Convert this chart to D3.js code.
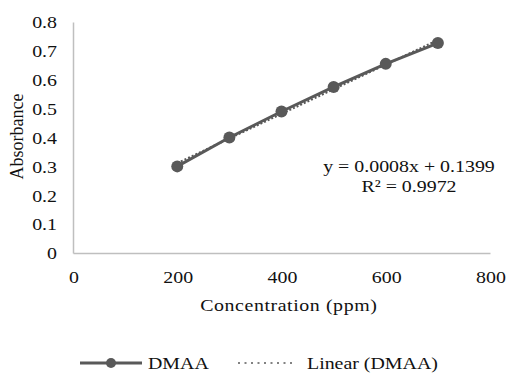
<!DOCTYPE html>
<html>
<head>
<meta charset="utf-8">
<script src="https://cdn.jsdelivr.net/npm/d3@7"></script>
<style>
  body { margin: 0; background: #fff; }
  svg { display: block; }
  text { font-family: "Liberation Serif", "Times New Roman", serif; fill: #111; }
</style>
</head>
<body>
<svg width="508" height="374"></svg>
<script>
// data
const concentration = [200, 300, 400, 500, 600, 700];
const absorbance = [0.30, 0.40, 0.49, 0.575, 0.655, 0.727];
const xTicks = [0, 200, 400, 600, 800];
const yTicks = [0, 0.1, 0.2, 0.3, 0.4, 0.5, 0.6, 0.7, 0.8];
const equation = ["y = 0.0008x + 0.1399", "R² = 0.9972"];
const legendNames = ["DMAA", "Linear (DMAA)"];

const svg = d3.select("svg");
const grey = "#595959";
const axisGrey = "#bfbfbf";
const FS = "17px";
const SX = 1.17; // text in the picture is a little wide

const x = d3.scaleLinear().domain([0, 800]).range([73, 490]);
const y = d3.scaleLinear().domain([0, 0.8]).range([253, 22]);

// put text at (px,py) and stretch it sideways
const place = (sel, px, py) => sel
  .attr("x", 0).attr("y", 0)
  .attr("transform", `translate(${px},${py}) scale(${SX},1)`);

// axes
const yAxis = svg.append("g")
  .attr("transform", `translate(${x(0)},0)`)
  .call(d3.axisLeft(y).tickValues(yTicks).tickSize(0).tickFormat(d3.format("")));
yAxis.selectAll("text")
  .attr("dy", null)
  .style("font-size", FS)
  .attr("text-anchor", "end")
  .each(function() { place(d3.select(this), -16, 5.8); });

const xAxis = svg.append("g")
  .attr("transform", `translate(0,${y(0)})`)
  .call(d3.axisBottom(x).tickValues(xTicks).tickSize(0).tickFormat(d3.format("d")));
xAxis.selectAll("text")
  .attr("dy", null)
  .style("font-size", FS)
  .attr("text-anchor", "middle")
  .each(function() { place(d3.select(this), 0.5, 30); });

svg.selectAll(".domain")
  .attr("stroke", axisGrey)
  .attr("stroke-width", 1.5);
svg.selectAll(".tick line").remove();

// axis titles
place(svg.append("text")
  .attr("text-anchor", "middle")
  .style("font-size", FS)
  .attr("textLength", 151)
  .text("Concentration (ppm)"), 288.5, 310.5);

svg.append("text")
  .attr("text-anchor", "middle")
  .attr("transform", "translate(23,136.5) rotate(-90)")
  .style("font-size", "18px")
  .text("Absorbance");

// linear trendline (least squares over the points)
const mx = d3.mean(concentration);
const my = d3.mean(absorbance);
const slope = d3.sum(concentration, (c, i) => (c - mx) * (absorbance[i] - my)) /
  d3.sum(concentration, (c) => (c - mx) * (c - mx));
const icpt = my - slope * mx;
const trendX = d3.extent(concentration);

const line = d3.line().x((d) => x(d[0])).y((d) => y(d[1]));

svg.append("path")
  .datum(trendX.map((c) => [c, icpt + slope * c]))
  .attr("d", line)
  .attr("fill", "none")
  .attr("stroke", grey)
  .attr("stroke-width", 2)
  .attr("stroke-dasharray", "2,2");

// series
const pts = concentration.map((c, i) => [c, absorbance[i]]);
svg.append("path")
  .datum(pts)
  .attr("d", line)
  .attr("fill", "none")
  .attr("stroke", grey)
  .attr("stroke-width", 3);

svg.selectAll("circle.pt")
  .data(pts)
  .enter().append("circle")
    .attr("class", "pt")
    .attr("cx", (d) => x(d[0]))
    .attr("cy", (d) => y(d[1]))
    .attr("r", 6)
    .attr("fill", grey);

// equation label
equation.forEach((t, i) => {
  place(svg.append("text")
    .attr("text-anchor", "middle")
    .style("font-size", FS)
    .text(t), 409, 172 + i * 19.5);
});

// legend
const lg = svg.append("g");
lg.append("line")
  .attr("x1", 80).attr("x2", 142).attr("y1", 363).attr("y2", 363)
  .attr("stroke", grey).attr("stroke-width", 3);
lg.append("circle")
  .attr("cx", 111).attr("cy", 363).attr("r", 5)
  .attr("fill", grey);
place(lg.append("text").style("font-size", FS).text(legendNames[0]), 148, 368.5);

lg.append("line")
  .attr("x1", 238).attr("x2", 296).attr("y1", 363).attr("y2", 363)
  .attr("stroke", grey).attr("stroke-width", 1.5)
  .attr("stroke-dasharray", "2,4.5");
place(lg.append("text").style("font-size", FS).text(legendNames[1]), 307, 368.5);
</script>
</body>
</html>
